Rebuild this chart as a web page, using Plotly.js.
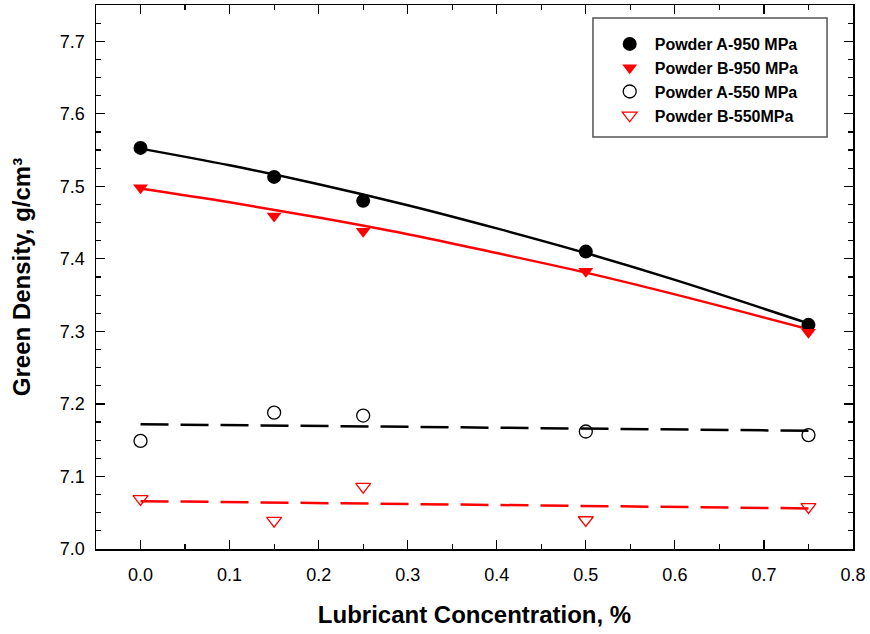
<!DOCTYPE html>
<html>
<head>
<meta charset="utf-8">
<script src="https://cdn.plot.ly/plotly-3.0.1.min.js"></script>
<style>html,body{margin:0;padding:0;background:#fff;}#chart{width:870px;height:634px;}</style>
</head>
<body>
<div id="chart"></div>
<script>
// Measured data
const xPts = [0.0, 0.15, 0.25, 0.5, 0.75];
const powderA950 = [7.553, 7.513, 7.480, 7.410, 7.309];
const powderB950 = [7.498, 7.459, 7.438, 7.383, 7.299];
const powderA550 = [7.149, 7.188, 7.184, 7.162, 7.157];
const powderB550 = [7.069, 7.039, 7.086, 7.040, 7.058];

// Fit curves
const fitX = [0.0, 0.1, 0.2, 0.3, 0.4, 0.5, 0.6, 0.75];
const fitA950 = [7.552, 7.529, 7.503, 7.474, 7.442, 7.408, 7.371, 7.311];
const fitB950 = [7.497, 7.478, 7.457, 7.434, 7.408, 7.381, 7.351, 7.303];
const fitLinX = [0.0, 0.75];
const fitA550 = [7.172, 7.163];
const fitB550 = [7.066, 7.056];

const names = ['Powder A-950 MPa', 'Powder B-950 MPa', 'Powder A-550 MPa', 'Powder B-550MPa'];

const traces = [
  {x: fitX, y: fitA950, mode: 'lines', line: {color: '#000', width: 2.5, shape: 'spline'}, showlegend: false, hoverinfo: 'skip'},
  {x: fitX, y: fitB950, mode: 'lines', line: {color: '#ff0000', width: 2.5, shape: 'spline'}, showlegend: false, hoverinfo: 'skip'},
  {x: fitLinX, y: fitA550, mode: 'lines', line: {color: '#000', width: 2.5, dash: '28px,12px'}, showlegend: false, hoverinfo: 'skip'},
  {x: fitLinX, y: fitB550, mode: 'lines', line: {color: '#ff0000', width: 2.5, dash: '28px,12px'}, showlegend: false, hoverinfo: 'skip'},
  {x: xPts, y: powderA950, name: names[0], mode: 'markers', marker: {symbol: 'circle', size: 14, color: '#000'}},
  {x: xPts, y: powderB950, name: names[1], mode: 'markers', marker: {symbol: 'triangle-down', size: 13, color: '#ff0000'}},
  {x: xPts, y: powderA550, name: names[2], mode: 'markers', marker: {symbol: 'circle-open', size: 13, color: '#000', line: {width: 1.3, color: '#000'}}},
  {x: xPts, y: powderB550, name: names[3], mode: 'markers', marker: {symbol: 'triangle-down-open', size: 13, color: '#ff0000', line: {width: 1.3, color: '#ff0000'}}}
];

const axisCommon = {
  showline: true, linecolor: '#000', linewidth: 1.5, mirror: 'ticks',
  ticks: 'inside', ticklen: 9, tickwidth: 1.2, tickcolor: '#000',
  showgrid: false, zeroline: false,
  tickfont: {family: 'Liberation Sans, Arial, sans-serif', size: 18, color: '#000'}
};

const layout = {
  width: 870, height: 634,
  margin: {l: 96, r: 17, t: 5, b: 85},
  paper_bgcolor: '#fff', plot_bgcolor: '#fff',
  font: {family: 'Liberation Sans, Arial, sans-serif', color: '#000'},
  xaxis: Object.assign({}, axisCommon, {
    range: [-0.05, 0.8], tick0: 0, dtick: 0.1, tickformat: '.1f',
    ticklabelstandoff: 9,
    minor: {dtick: 0.05, ticks: 'inside', ticklen: 5, tickwidth: 1.2, tickcolor: '#000', showgrid: false},
    title: {text: '<b>Lubricant Concentration, %</b>', font: {size: 24, color: '#000'}, standoff: 22}
  }),
  yaxis: Object.assign({}, axisCommon, {
    range: [7.0, 7.75], tick0: 7.0, dtick: 0.1, tickformat: '.1f',
    ticklabelstandoff: 6,
    minor: {dtick: 0.025, ticks: 'inside', ticklen: 5, tickwidth: 1.2, tickcolor: '#000', showgrid: false},
    title: {text: '<b>Green Density, g/cm³</b>', font: {size: 24, color: '#000'}, standoff: 22}
  }),
  legend: {
    x: 0.672, y: 0.9596, xanchor: 'left', yanchor: 'top',
    bgcolor: 'rgba(0,0,0,0)', borderwidth: 0,
    font: {size: 16, color: '#000', family: 'Liberation Sans, Arial, sans-serif', weight: 'bold'},
    tracegroupgap: 0, itemwidth: 40
  },
  shapes: [{
    type: 'rect', xref: 'paper', yref: 'paper',
    x0: 0.6565, x1: 0.9657, y0: 0.7574, y1: 0.9761,
    line: {color: '#555', width: 1.5}, fillcolor: '#fff', layer: 'above'
  }],
  showlegend: true
};

Plotly.newPlot('chart', traces, layout, {displayModeBar: false, staticPlot: true});
</script>
</body>
</html>
